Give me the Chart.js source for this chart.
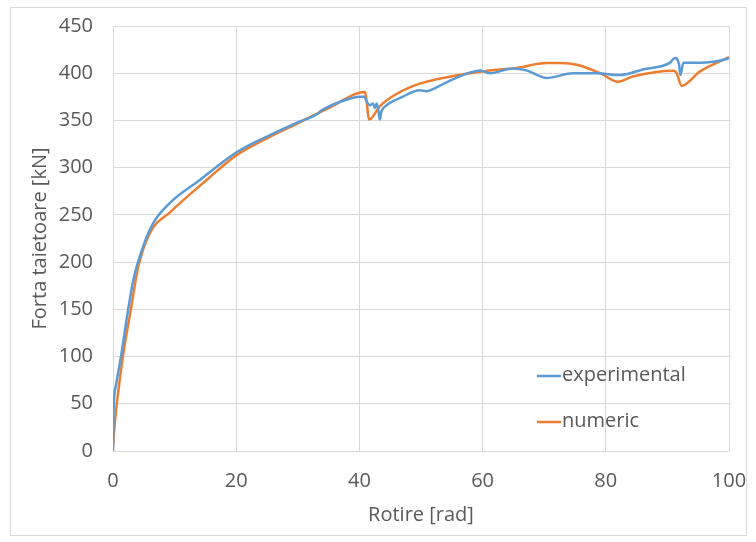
<!DOCTYPE html>
<html>
<head>
<meta charset="utf-8">
<script src="https://cdn.jsdelivr.net/npm/chart.js@4/dist/chart.umd.min.js"></script>
<style>
  html, body { margin: 0; padding: 0; background: #fff; }
  #wrap { width: 756px; height: 542px; position: relative; }
</style>
</head>
<body>
<div id="wrap"><canvas id="chart" width="756" height="542"></canvas></div>
<script>
// values
const expX = [0, 0.1, 0.5, 1.4, 2.2, 3.3, 4.7, 6.5, 9.3, 14.1, 20, 25, 30, 33.4, 33.7, 34.2, 37, 40.1, 40.8, 41.2, 41.7, 42.2, 42.5, 42.8, 43.1, 43.3, 43.6, 44.2, 47, 49.8, 50.9, 51.5, 55, 59.6, 61.2, 64.9, 67.1, 70.4, 74.7, 78.5, 82.3, 86, 90.4, 91.2, 91.9, 92.1, 92.6, 95.3, 99.6, 100];
const expY = [0, 43, 70, 104, 139, 181, 213, 241, 263, 287, 316, 333, 348, 358, 360, 362, 370, 375, 375, 370, 366, 368, 363, 368, 360, 351, 360, 365, 375, 382, 381, 382, 393, 403, 400, 405, 403, 395, 400, 400, 398, 404, 411, 416, 409, 398, 411, 411, 415, 416];

const numX = [0, 0.3, 1.7, 2.8, 4.1, 6, 9.3, 15.2, 20, 25, 30, 35, 40.9, 41.6, 43.3, 46, 49.8, 56.9, 62.8, 65, 70.4, 72.6, 75.3, 79.1, 82, 84.4, 91, 91.5, 92.3, 95.3, 100];
const numY = [4, 30, 104, 146, 195, 231, 253, 287, 313, 331, 347, 363, 380, 351, 365, 378, 389, 399, 404, 405, 410.7, 410.7, 409, 400, 391, 396.5, 402.5, 400, 386.6, 402, 417];

const seriesNames = ["experimental", "numeric"];
const xTitle = "Rotire [rad]";
const yTitle = "Forta taietoare [kN]";

function toPoints(xs, ys) {
    return xs.map((x, i) => ({ x: x, y: ys[i] }));
}

const textColor = "#595959";
const gridColor = "#d9d9d9";
const fontFamily = "'Open Sans', sans-serif";

// frame + legend drawn inside the plot
const framePlugin = {
    id: "frame",
    beforeDraw(chart) {
        const ctx = chart.ctx;
        ctx.save();
        ctx.fillStyle = "#fff";
        ctx.fillRect(0, 0, chart.width, chart.height);
        ctx.strokeStyle = "#d9d9d9";
        ctx.lineWidth = 1;
        ctx.strokeRect(10.5, 7.5, 736, 528);
        ctx.restore();
    },
    afterDraw(chart) {
        const ctx = chart.ctx;
        ctx.save();
        ctx.font = "20px " + fontFamily;
        ctx.textBaseline = "middle";
        chart.data.datasets.forEach((ds, i) => {
            const y = 376 + i * 46;
            ctx.strokeStyle = ds.borderColor;
            ctx.lineWidth = 2.5;
            ctx.beginPath();
            ctx.moveTo(537, y);
            ctx.lineTo(561, y);
            ctx.stroke();
            ctx.fillStyle = textColor;
            ctx.fillText(ds.label, 562, y - 1);
        });
        ctx.restore();
    }
};

new Chart(document.getElementById("chart"), {
    type: "scatter",
    data: {
        datasets: [
            {
                label: seriesNames[0],
                data: toPoints(expX, expY),
                borderColor: "#5b9bd5",
                backgroundColor: "#5b9bd5",
                showLine: true,
                borderWidth: 2.5,
                pointRadius: 0,
                cubicInterpolationMode: "monotone"
            },
            {
                label: seriesNames[1],
                data: toPoints(numX, numY),
                borderColor: "#ed7d31",
                backgroundColor: "#ed7d31",
                showLine: true,
                borderWidth: 2.5,
                pointRadius: 0,
                cubicInterpolationMode: "monotone"
            }
        ]
    },
    options: {
        responsive: false,
        animation: false,
        layout: { padding: { left: 24, right: 27, top: 26, bottom: 11 } },
        plugins: {
            legend: { display: false },
            tooltip: { enabled: false }
        },
        scales: {
            x: {
                type: "linear",
                min: 0,
                max: 100,
                ticks: { stepSize: 20, color: textColor, font: { family: fontFamily, size: 20 }, padding: 18 },
                grid: { color: gridColor, drawTicks: false },
                border: { display: false },
                title: { display: true, text: xTitle, color: textColor, font: { family: fontFamily, size: 20 }, padding: { top: 2 } },
                afterFit(scale) {
                    scale.height = 80;
                    scale.paddingLeft = 0;
                    scale.paddingRight = 0;
                }
            },
            y: {
                min: 0,
                max: 450,
                ticks: { stepSize: 50, color: textColor, font: { family: fontFamily, size: 20 }, padding: 20 },
                grid: { color: gridColor, drawTicks: false },
                border: { display: false },
                title: { display: true, text: yTitle, color: textColor, font: { family: fontFamily, size: 20 }, padding: { top: 4, bottom: 0 } },
                afterFit(scale) {
                    scale.width = 89;
                    scale.paddingTop = 0;
                    scale.paddingBottom = 0;
                }
            }
        }
    },
    plugins: [framePlugin]
});
</script>
</body>
</html>
